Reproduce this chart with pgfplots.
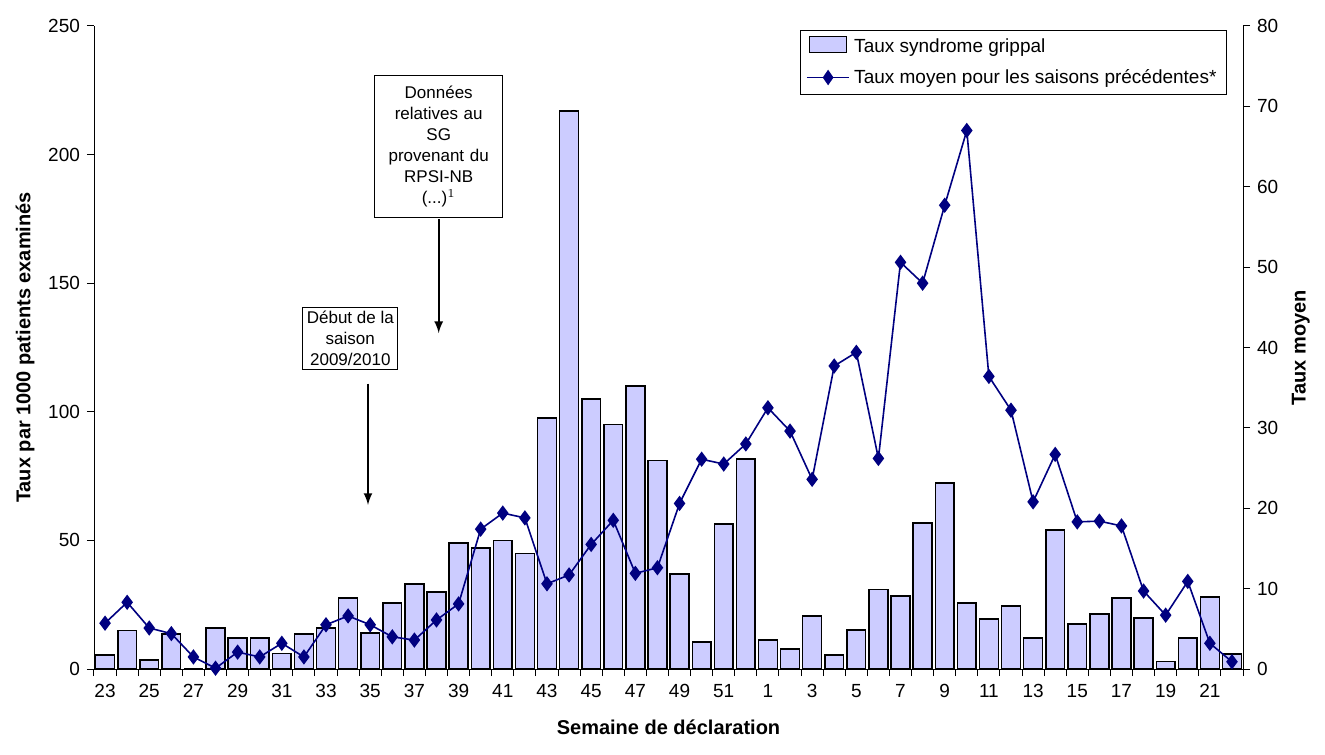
\documentclass[border=0pt]{standalone}
\usepackage{pgfplots}
\pgfplotsset{compat=1.18}
\usepackage{fontspec}
\setmainfont{Liberation Sans}
\definecolor{barc}{RGB}{204,204,255}
\definecolor{linec}{RGB}{0,0,128}
\pgfplotsset{common/.style={scale only axis,width=574.5pt,height=321.5pt,
 xmin=-0.5,xmax=51.5, axis x line*=bottom, tick style={black,line width=0.5pt}, tick align=outside,
 ticklabel style={font=\fontsize{9.5}{11}\selectfont}, /pgf/number format/assume math mode=true, major tick length=3.5pt}}
\begin{document}
\begin{tikzpicture}[x=1pt,y=1pt]
\useasboundingbox (-47,-42.5) rectangle (615.5,334.5);
\begin{axis}[common,ymin=0,ymax=250,ytick={0,50,...,250},
 xtick={-0.5,0.5,...,51.5},xticklabels={},
 extra x ticks={0,2,...,50},extra x tick labels={23,25,27,29,31,33,35,37,39,41,43,45,47,49,51,1,3,5,7,9,11,13,15,17,19,21},
 extra x tick style={major tick length=0pt, xticklabel style={yshift=-4pt}},
 axis y line*=left,
 xlabel={\fontsize{10}{12}\selectfont\textbf{Semaine de déclaration}}, ylabel={\fontsize{10}{12}\selectfont\textbf{Taux par 1000 patients examinés}},
 xlabel style={yshift=-1pt}, clip=false]
\addplot[ybar,bar width=0.85,fill=barc,draw=black,line width=0.75pt] coordinates {
(0,5.4)(1,15)(2,3.5)(3,13.6)(4,0)(5,16)(6,12)(7,12)(8,6)(9,13.6)(10,16)(11,27.6)(12,14)(13,25.7)(14,33)(15,30)(16,49)(17,47)(18,50)(19,45)(20,97.6)(21,217)(22,105)(23,95)(24,110)(25,81)(26,37)(27,10.5)(28,56.4)(29,81.6)(30,11.3)(31,7.8)(32,20.6)(33,5.4)(34,15.2)(35,31)(36,28.4)(37,56.8)(38,72.3)(39,25.7)(40,19.4)(41,24.5)(42,12)(43,54)(44,17.5)(45,21.4)(46,27.6)(47,19.8)(48,3)(49,12)(50,28)(51,5.8)};
\node[draw=black,fill=white,align=center,font=\fontsize{8.5}{10.5}\selectfont,text width=60pt,inner sep=2pt,anchor=north,minimum height=71pt] at (axis cs:15.1,231) {Données\\relatives au\\SG\\provenant du\\RPSI-NB\\(...)$^1$};
\draw[-latex,line width=1pt] (axis cs:15.1,175) -- (axis cs:15.1,130.6);
\node[draw=black,fill=white,align=center,font=\fontsize{8.5}{10.5}\selectfont,inner sep=2pt] at (axis cs:11.1,128.5) {Début de la\\saison\\2009/2010};
\draw[-latex,line width=1pt] (axis cs:11.9,111) -- (axis cs:11.9,63.8);
\end{axis}
\begin{axis}[common,ymin=0,ymax=80,ytick={0,10,...,80}, xtick=\empty,
 axis y line*=right, ylabel={\fontsize{10}{12}\selectfont\textbf{Taux moyen}},
 legend style={at={(0.986,0.994)},anchor=north east,draw=black,font=\fontsize{9.5}{11}\selectfont,row sep=3pt,cells={anchor=west}},
 legend image code/.code={\draw[#1] (0cm,-0.1cm) -- (0.6cm,-0.1cm);}]
\addlegendimage{legend image code/.code={\draw[fill=barc,draw=black,line width=0.75pt] (0.05cm,-0.1cm) rectangle (0.7cm,0.18cm);}}
\addlegendentry{Taux syndrome grippal}
\addplot[linec,line width=0.8pt,mark=diamond*,mark size=3.2pt,mark options={fill=linec},
 legend image code/.code={\draw[linec,line width=0.8pt] (0cm,0cm) -- (0.75cm,0cm); \fill[linec] (0.375cm,0cm) +(0,3.2pt) -- +(2.2pt,0) -- +(0,-3.2pt) -- +(-2.2pt,0) -- cycle;}] coordinates {
(0,5.7)(1,8.3)(2,5.1)(3,4.4)(4,1.5)(5,0.1)(6,2.1)(7,1.5)(8,3.2)(9,1.5)(10,5.5)(11,6.6)(12,5.5)(13,4)(14,3.6)(15,6.1)(16,8.1)(17,17.4)(18,19.4)(19,18.8)(20,10.6)(21,11.7)(22,15.5)(23,18.5)(24,11.9)(25,12.6)(26,20.6)(27,26.1)(28,25.5)(29,28)(30,32.5)(31,29.6)(32,23.6)(33,37.7)(34,39.4)(35,26.2)(36,50.6)(37,48)(38,57.7)(39,67)(40,36.4)(41,32.2)(42,20.8)(43,26.7)(44,18.3)(45,18.4)(46,17.8)(47,9.7)(48,6.7)(49,10.9)(50,3.2)(51,0.9)};
\addlegendentry{Taux moyen pour les saisons précédentes*}
\end{axis}
\end{tikzpicture}
\end{document}
